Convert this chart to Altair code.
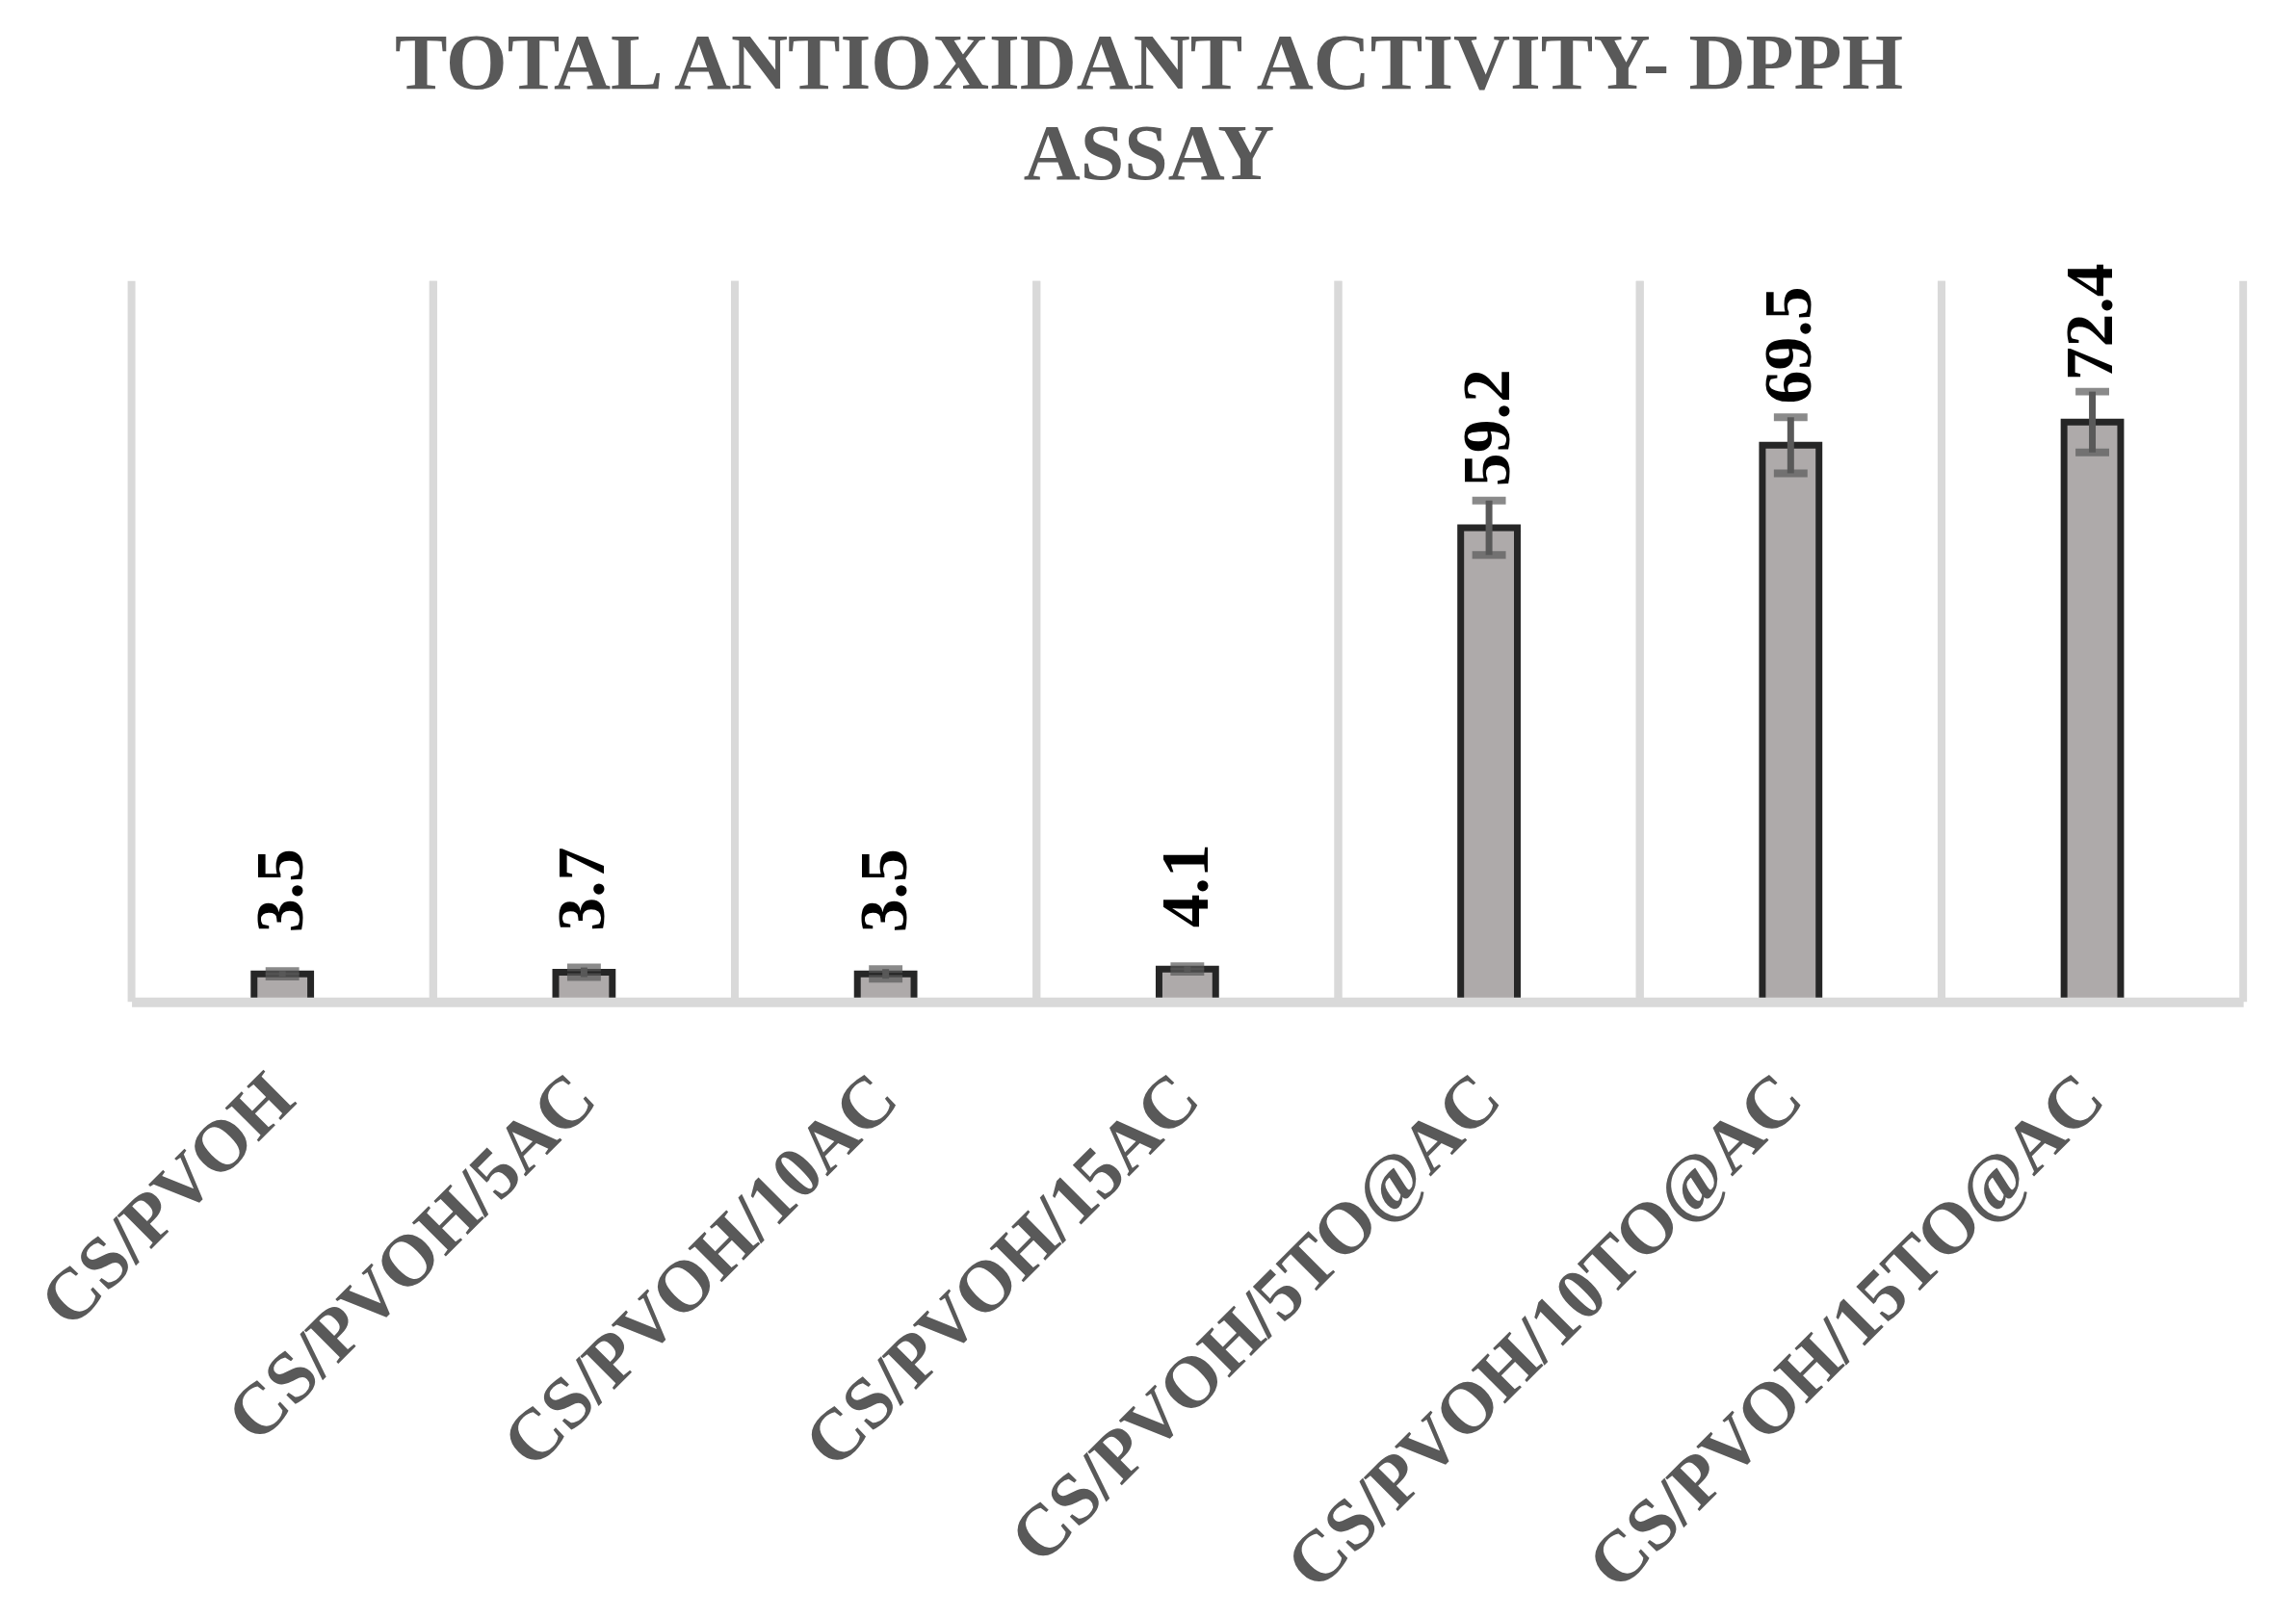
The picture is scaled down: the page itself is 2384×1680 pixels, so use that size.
import altair as alt
import pandas as pd

samples = ["CS/PVOH", "CS/PVOH/5AC", "CS/PVOH/10AC", "CS/PVOH/15AC",
           "CS/PVOH/5TO@AC", "CS/PVOH/10TO@AC", "CS/PVOH/15TO@AC"]
values = [3.5, 3.7, 3.5, 4.1, 59.2, 69.5, 72.4]
errors = [0.35, 0.6, 0.6, 0.35, 3.4, 3.5, 3.8]
labels = ["3.5", "3.7", "3.5", "4.1", "59.2", "69.5", "72.4"]
y_max = 90

df = pd.DataFrame({"sample": samples, "value": values, "err": errors, "label": labels})
df["lo"] = df["value"] - df["err"]
df["hi"] = df["value"] + df["err"]

FONT = "Liberation Serif"
xscale = alt.Scale(paddingInner=0, paddingOuter=0)
xaxis = alt.Axis(
    grid=False, domainColor="#d9d9d9", domainWidth=10, ticks=False, tickSize=0,
    labelAngle=-45, labelAlign="right", labelBaseline="middle",
    labelFont=FONT, labelFontWeight="bold", labelFontSize=76,
    labelColor="#595959", labelPadding=88, labelLimit=0,
    labelOverlap=False, labelBound=False, zindex=1,
)
x = alt.X("sample:N", sort=samples, title=None, scale=xscale, axis=xaxis)
yscale = alt.Scale(domain=[0, y_max])
y = alt.Y("value:Q", scale=yscale, axis=None)

base = alt.Chart(df)

grid_start = base.mark_rule(color="#d9d9d9", strokeWidth=8).encode(
    x=alt.X("sample:N", sort=samples, title=None, scale=xscale, axis=xaxis, bandPosition=0),
    y=alt.Y(datum=0, scale=yscale, axis=None), y2=alt.Y2(datum=y_max),
)
grid_end = base.mark_rule(color="#d9d9d9", strokeWidth=8).encode(
    x=alt.X("sample:N", sort=samples, title=None, scale=xscale, axis=xaxis, bandPosition=1),
    y=alt.Y(datum=0, scale=yscale, axis=None), y2=alt.Y2(datum=y_max),
)
bars = base.mark_bar(size=59, fill="#aeaaaa", stroke="#262626", strokeWidth=7).encode(x=x, y=y)
rule = base.mark_rule(color="#595959", strokeWidth=7).encode(
    x=x, y=alt.Y("lo:Q", scale=yscale, axis=None), y2="hi:Q")
cap_lo = base.mark_tick(color="#595959", size=35, thickness=8).encode(
    x=x, y=alt.Y("lo:Q", scale=yscale, axis=None))
cap_hi = base.mark_tick(color="#595959", size=35, thickness=8).encode(
    x=x, y=alt.Y("hi:Q", scale=yscale, axis=None))
text = base.mark_text(
    angle=270, align="left", baseline="middle", dx=43,
    font=FONT, fontWeight="bold", fontSize=70, color="black",
).encode(x=x, y=y, text="label:N")

chart = alt.layer(grid_start, grid_end, bars, rule, cap_lo, cap_hi, text).properties(
    width=2200, height=751,
    autosize=alt.AutoSizeParams(type="none"),
    padding={"left": 129, "top": 282, "right": 47, "bottom": 630},
    title=alt.TitleParams(
        text=["TOTAL ANTIOXIDANT ACTIVITY- DPPH", "ASSAY"],
        font=FONT, fontSize=82, fontWeight="bold", color="#595959",
        lineHeight=94, anchor="middle", dx=-40, offset=71,
    ),
).configure_view(stroke=None)

chart.save("out.html", embed_options={"renderer": "svg", "actions": False})
